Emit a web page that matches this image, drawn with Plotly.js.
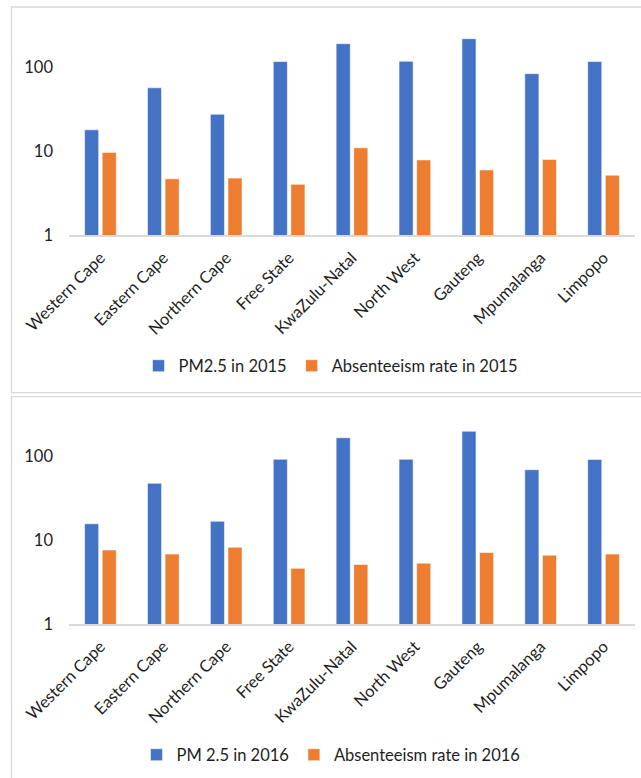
<!DOCTYPE html>
<html>
<head>
<meta charset="utf-8">
<script src="https://cdn.plot.ly/plotly-3.0.1.min.js"></script>
<style>
html,body{margin:0;padding:0;background:#fff;}
#chart{width:641px;height:778px;}
</style>
</head>
<body>
<div id="chart"></div>
<script>
const categories = ['Western Cape','Eastern Cape','Northern Cape','Free State','KwaZulu-Natal','North West','Gauteng','Mpumalanga','Limpopo'];
const pm2015 = [18, 57, 27.6, 117, 191, 118, 219, 84, 117];
const abs2015 = [9.7, 4.7, 4.8, 4.05, 11.0, 7.9, 6.0, 8.0, 5.2];
const pm2016 = [15.6, 47.3, 16.7, 91.4, 165, 91.4, 197, 68.7, 91];
const abs2016 = [7.6, 6.8, 8.2, 4.6, 5.1, 5.3, 7.1, 6.6, 6.8];
const yTickVals = [1, 10, 100];
const yTickText = ['1', '10', '100'];
const seriesNames = ['PM2.5 in 2015', 'Absenteeism rate in 2015', 'PM 2.5 in 2016', 'Absenteeism rate in 2016'];

const W = 641, H = 778;
const px = v => v / W;
const py = v => 1 - v / H;
const BLUE = '#4472C4', ORANGE = '#ED7D31';
const FONT = 'Lato, "Liberation Sans", Arial, sans-serif';
const FS = 16.5;
const TXT = '#1e1e1e';
const barLine = {color: 'rgba(255,255,255,0.55)', width: 1};

const traces = [
  {type:'bar', name:seriesNames[0], x:categories, y:pm2015, xaxis:'x', yaxis:'y', legend:'legend', marker:{color:BLUE, line:barLine}},
  {type:'bar', name:seriesNames[1], x:categories, y:abs2015, xaxis:'x', yaxis:'y', legend:'legend', marker:{color:ORANGE, line:barLine}},
  {type:'bar', name:seriesNames[2], x:categories, y:pm2016, xaxis:'x2', yaxis:'y2', legend:'legend2', marker:{color:BLUE, line:barLine}},
  {type:'bar', name:seriesNames[3], x:categories, y:abs2016, xaxis:'x2', yaxis:'y2', legend:'legend2', marker:{color:ORANGE, line:barLine}}
];

const xCommon = {
  domain:[px(69), px(635)], showline:true, linecolor:'#D9D9D9', linewidth:1.5,
  showgrid:false, zeroline:false, ticks:'', tickangle:-45,
  tickfont:{family:FONT, size:FS, color:TXT}, ticklabelstandoff:5,
  fixedrange:true
};
const yCommon = {
  type:'log', range:[0, 2.55], tickvals:yTickVals, ticktext:yTickText,
  showline:false, showgrid:false, zeroline:false, ticks:'',
  tickfont:{family:FONT, size:FS, color:TXT}, ticklabelstandoff:15,
  fixedrange:true
};

const layout = {
  width:W, height:H, margin:{l:0, r:0, t:0, b:0},
  paper_bgcolor:'#fff', plot_bgcolor:'rgba(0,0,0,0)',
  barmode:'group', bargap:0.44, bargroupgap:0.2,
  font:{family:FONT, color:TXT},
  xaxis:Object.assign({}, xCommon, {anchor:'y'}),
  yaxis:Object.assign({}, yCommon, {anchor:'x', domain:[py(235.3), py(21.1)]}),
  xaxis2:Object.assign({}, xCommon, {anchor:'y2'}),
  yaxis2:Object.assign({}, yCommon, {anchor:'x2', domain:[py(624), py(409.8)]}),
  legend:{orientation:'h', x:px(331), xanchor:'center', y:py(366), yanchor:'middle',
          font:{family:FONT, size:FS, color:TXT}, bgcolor:'rgba(0,0,0,0)'},
  legend2:{orientation:'h', x:px(331), xanchor:'center', y:py(755), yanchor:'middle',
          font:{family:FONT, size:FS, color:TXT}, bgcolor:'rgba(0,0,0,0)'},
  shapes:[
    {type:'rect', xref:'paper', yref:'paper', x0:px(11.5), x1:1.02, y0:py(392.7), y1:py(7), line:{color:'#D9D9D9', width:1.3}, layer:'below'},
    {type:'rect', xref:'paper', yref:'paper', x0:px(11.5), x1:1.02, y0:-0.02, y1:py(396.7), line:{color:'#D9D9D9', width:1.3}, layer:'below'}
  ],
  showlegend:true
};

Plotly.newPlot('chart', traces, layout, {displayModeBar:false, staticPlot:true});
</script>
</body>
</html>
